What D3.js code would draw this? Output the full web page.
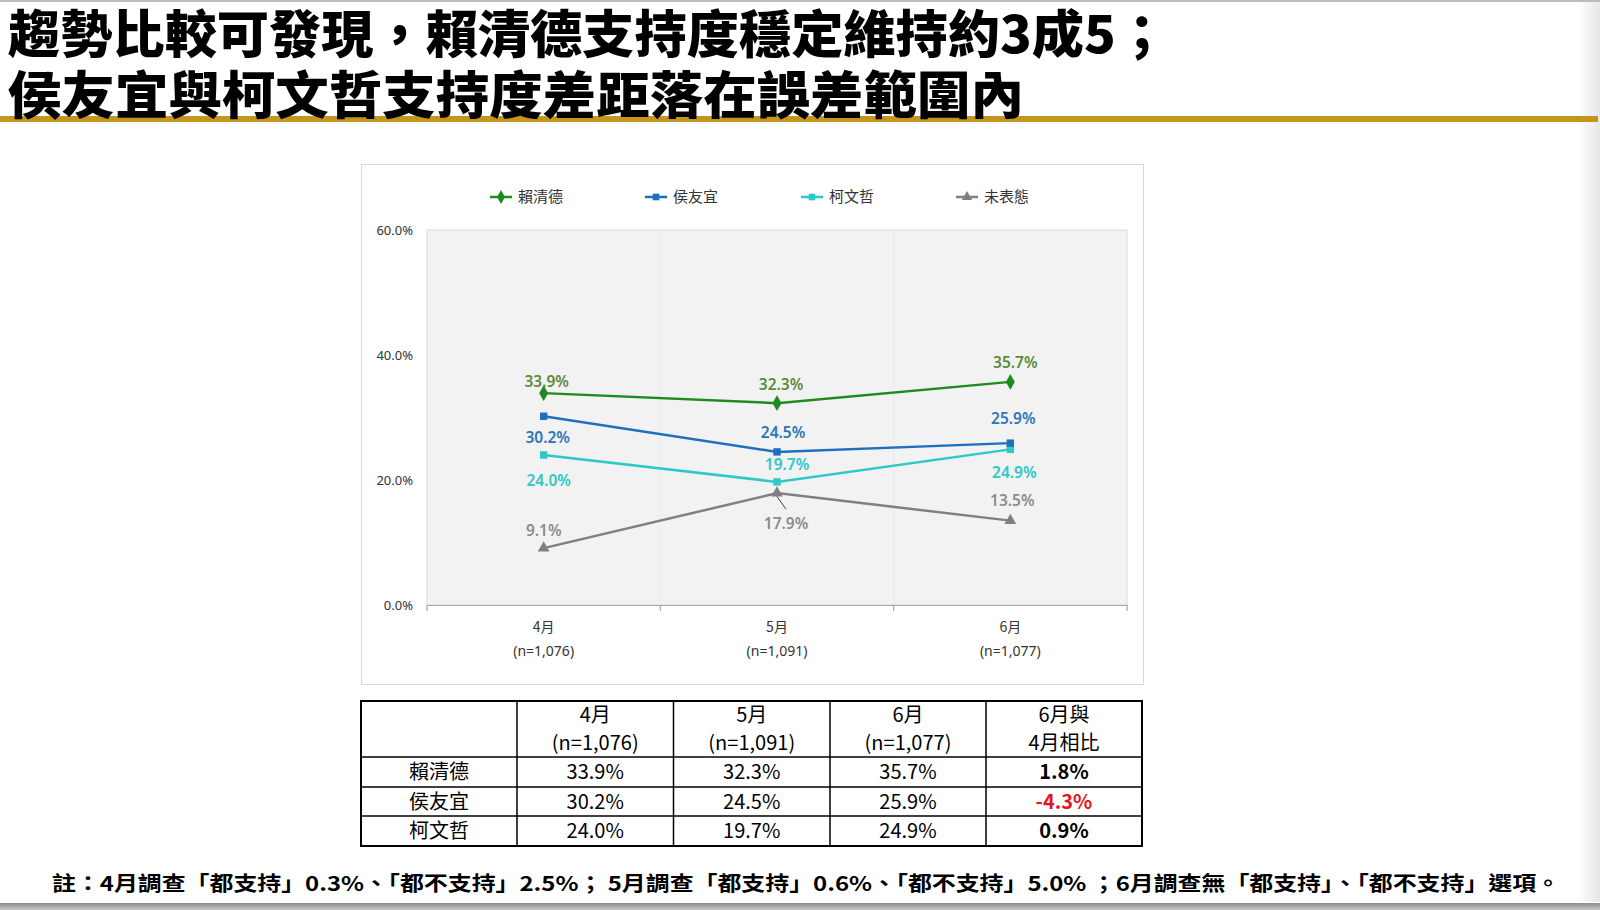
<!DOCTYPE html>
<html>
<head>
<meta charset="utf-8">
<script src="https://cdn.jsdelivr.net/npm/d3@7"></script>
<style>
  html, body { margin: 0; padding: 0; background: #fff; }
  svg { display: block; }
</style>
</head>
<body>
<svg id="chart" width="1600" height="910"></svg>
<script>
// ---------- DATA ----------
const titleLines = ["趨勢比較可發現，賴清德支持度穩定維持約3成5；", "侯友宜與柯文哲支持度差距落在誤差範圍內"];
const categories = ["4月", "5月", "6月"];
const sampleSizes = ["(n=1,076)", "(n=1,091)", "(n=1,077)"];
const seriesNames = ["賴清德", "侯友宜", "柯文哲", "未表態"];
const laiValues = [33.9, 32.3, 35.7];
const houValues = [30.2, 24.5, 25.9];
const koValues = [24.0, 19.7, 24.9];
const undecidedValues = [9.1, 17.9, 13.5];
const yTicks = [0, 20, 40, 60];
const tableRows = ["賴清德", "侯友宜", "柯文哲"];
const diffValues = [1.8, -4.3, 0.9];
const diffHeader = ["6月與", "4月相比"];
const footnote = "註：4月調查「都支持」0.3%、「都不支持」2.5%； 5月調查「都支持」0.6%、「都不支持」5.0% ；6月調查無「都支持」、「都不支持」選項。";

// ---------- STYLE / LAYOUT ----------
const seriesValues = [laiValues, houValues, koValues, undecidedValues];
const lineColors = ["#1e8b1e", "#1f6fbf", "#2ec8c8", "#808080"];
const labelColors = ["#5b8c3a", "#2e75b6", "#2ec8c8", "#8c8c8c"];
const markerTypes = [d3.symbolDiamond, d3.symbolSquare, d3.symbolSquare, d3.symbolTriangle];
const markerSizes = [70, 55, 55, 60];
// label offsets (dx, dy) relative to each point
const labelOffsets = [
  [[3, -12], [4, -19], [5, -19]],
  [[4, 21], [6, -19], [3, -25]],
  [[5, 26], [10, -17], [4, 23]],
  [[0, -18], [9, 30], [2, -20]]
];

const svg = d3.select("#chart");
const FONT_CJK = "'Noto Sans CJK TC', 'Noto Sans', sans-serif";
const FONT_NUM = "'Noto Sans', 'Noto Sans CJK TC', sans-serif";
const defs = svg.append("defs");

// top thin line
svg.append("rect").attr("x", 0).attr("y", 0).attr("width", 1600).attr("height", 2).attr("fill", "#bdbdbd");

// right edge shade
const g1 = defs.append("linearGradient").attr("id", "rshade").attr("x1", 0).attr("x2", 1).attr("y1", 0).attr("y2", 0);
g1.append("stop").attr("offset", 0).attr("stop-color", "#fff");
g1.append("stop").attr("offset", 1).attr("stop-color", "#e6e6e6");
svg.append("rect").attr("x", 1578).attr("y", 2).attr("width", 22).attr("height", 900).attr("fill", "url(#rshade)");

// gold rule
svg.append("rect").attr("x", 0).attr("y", 116).attr("width", 1598).attr("height", 6).attr("fill", "#c4961c");

// Title
const titleX = 8;
const titleBaselines = [53, 114];
const titleWidths = [1160, 1016];
titleLines.forEach((t, i) => {
  svg.append("text")
    .attr("transform", `translate(${titleX},${titleBaselines[i]}) scale(1,1.06)`)
    .attr("font-family", FONT_CJK)
    .attr("font-weight", 900)
    .attr("font-size", 48)
    .attr("textLength", titleWidths[i])
    .attr("lengthAdjust", "spacingAndGlyphs")
    .attr("fill", "#000")
    .text(t);
});

// ---------- CHART ----------
svg.append("rect").attr("x", 361.5).attr("y", 164.5).attr("width", 782).attr("height", 520)
  .attr("fill", "#fff").attr("stroke", "#d9d9d9").attr("stroke-width", 1);

const plot = { left: 427, right: 1127, top: 230, bottom: 605 };
const x = d3.scaleBand().domain(categories).range([plot.left, plot.right]);
const y = d3.scaleLinear().domain([0, 60]).range([plot.bottom, plot.top]);

svg.append("rect").attr("x", plot.left).attr("y", plot.top)
  .attr("width", plot.right - plot.left).attr("height", plot.bottom - plot.top)
  .attr("fill", "#f2f2f2").attr("stroke", "#d9d9d9").attr("stroke-width", 1);

// faint vertical gridlines at category boundaries
categories.slice(1).forEach(c => {
  svg.append("line").attr("x1", x(c)).attr("x2", x(c)).attr("y1", plot.top).attr("y2", plot.bottom)
    .attr("stroke", "#e3eeee").attr("stroke-width", 1);
});

// y axis
const yAxis = svg.append("g").attr("transform", `translate(${plot.left},0)`)
  .call(d3.axisLeft(y).tickValues(yTicks).tickFormat(d => d.toFixed(1) + "%").tickSize(0).tickPadding(14));
yAxis.select(".domain").remove();
yAxis.selectAll("text").attr("font-family", FONT_NUM).attr("font-size", 13).attr("fill", "#333");

// x axis
const xAxis = svg.append("g").attr("transform", `translate(0,${plot.bottom})`)
  .call(d3.axisBottom(x).tickSize(0).tickFormat(""));
xAxis.select(".domain").attr("stroke", "#a6a6a6").attr("stroke-width", 1.2);
const bounds = [plot.left].concat(categories.map(c => x(c) + x.bandwidth()));
bounds.forEach(b => {
  svg.append("line").attr("x1", b).attr("x2", b).attr("y1", plot.bottom).attr("y2", plot.bottom + 6)
    .attr("stroke", "#a6a6a6").attr("stroke-width", 1.2);
});
categories.forEach((c, i) => {
  const cx = x(c) + x.bandwidth() / 2;
  svg.append("text").attr("x", cx).attr("y", 632).attr("text-anchor", "middle")
    .attr("font-family", FONT_CJK).attr("font-size", 14).attr("fill", "#333").text(c);
  svg.append("text").attr("x", cx).attr("y", 656).attr("text-anchor", "middle")
    .attr("font-family", FONT_NUM).attr("font-size", 14).attr("fill", "#333").text(sampleSizes[i]);
});

// series lines
const line = d3.line().x((d, i) => x(categories[i]) + x.bandwidth() / 2).y(d => y(d));
[3, 2, 1, 0].forEach(s => {
  svg.append("path").datum(seriesValues[s]).attr("d", line)
    .attr("fill", "none").attr("stroke", lineColors[s]).attr("stroke-width", 2.5);
});
// leader line for 17.9%
{
  const px = x(categories[1]) + x.bandwidth() / 2, py = y(undecidedValues[1]);
  svg.append("line").attr("x1", px - 1).attr("y1", py + 2).attr("x2", px + 9).attr("y2", py + 16)
    .attr("stroke", "#404040").attr("stroke-width", 1);
}
[3, 2, 1, 0].forEach(s => {
  svg.append("g").selectAll("path").data(seriesValues[s]).join("path")
    .attr("transform", (d, i) => `translate(${x(categories[i]) + x.bandwidth() / 2},${y(d)})`)
    .attr("d", d3.symbol().type(markerTypes[s]).size(markerSizes[s]))
    .attr("fill", lineColors[s]);
});
// data labels
seriesValues.forEach((vals, s) => {
  svg.append("g").selectAll("text").data(vals).join("text")
    .attr("x", (d, i) => x(categories[i]) + x.bandwidth() / 2 + labelOffsets[s][i][0])
    .attr("y", (d, i) => y(d) + labelOffsets[s][i][1])
    .attr("dy", "0.35em")
    .attr("text-anchor", "middle")
    .attr("font-family", FONT_NUM).attr("font-size", 15.5).attr("font-weight", 600)
    .attr("fill", labelColors[s])
    .text(d => d.toFixed(1) + "%");
});

// legend
const legendX = [490, 645, 801, 956];
const legendY = 197;
seriesNames.forEach((n, s) => {
  const g = svg.append("g").attr("transform", `translate(${legendX[s]},${legendY})`);
  g.append("line").attr("x1", 0).attr("x2", 22).attr("y1", 0).attr("y2", 0)
    .attr("stroke", lineColors[s]).attr("stroke-width", 2.5);
  g.append("path").attr("transform", "translate(11,0)")
    .attr("d", d3.symbol().type(markerTypes[s]).size(markerSizes[s] * 0.8)).attr("fill", lineColors[s]);
  g.append("text").attr("x", 28).attr("y", 0).attr("dy", "0.35em")
    .attr("font-family", FONT_CJK).attr("font-size", 15).attr("fill", "#333").text(n);
});

// ---------- TABLE ----------
const colEdges = [361, 517, 673.5, 830, 986, 1142];
const rowEdges = [701, 757, 787, 816, 846];
const tbl = svg.append("g");
tbl.append("rect").attr("x", colEdges[0]).attr("y", rowEdges[0])
  .attr("width", colEdges[5] - colEdges[0]).attr("height", rowEdges[4] - rowEdges[0])
  .attr("fill", "none").attr("stroke", "#000").attr("stroke-width", 2);
colEdges.slice(1, 5).forEach(cx => tbl.append("line").attr("x1", cx).attr("x2", cx)
  .attr("y1", rowEdges[0]).attr("y2", rowEdges[4]).attr("stroke", "#000").attr("stroke-width", 1.5));
rowEdges.slice(1, 4).forEach(ry => tbl.append("line").attr("x1", colEdges[0]).attr("x2", colEdges[5])
  .attr("y1", ry).attr("y2", ry).attr("stroke", "#000").attr("stroke-width", 1.5));
const colC = i => (colEdges[i] + colEdges[i + 1]) / 2;
const rowC = i => (rowEdges[i] + rowEdges[i + 1]) / 2;
function cell(cx, cy, t, opts = {}) {
  tbl.append("text").attr("x", cx).attr("y", cy).attr("dy", "0.36em").attr("text-anchor", "middle")
    .attr("font-family", FONT_CJK).attr("font-size", 20)
    .attr("font-weight", opts.bold ? 700 : 400)
    .attr("fill", opts.color || "#000").text(t);
}
categories.forEach((c, i) => {
  cell(colC(i + 1), 715, c);
  cell(colC(i + 1), 743, sampleSizes[i]);
});
cell(colC(4), 715, diffHeader[0]);
cell(colC(4), 743, diffHeader[1]);
const tableData = [laiValues, houValues, koValues];
tableRows.forEach((r, ri) => {
  cell(colC(0), rowC(ri + 1), r);
  tableData[ri].forEach((v, ci) => cell(colC(ci + 1), rowC(ri + 1), v.toFixed(1) + "%"));
  const dv = diffValues[ri];
  cell(colC(4), rowC(ri + 1), dv.toFixed(1) + "%", { bold: true, color: dv < 0 ? "#e8141c" : "#000" });
});

// ---------- FOOTNOTE ----------
svg.append("text").attr("x", 52).attr("y", 884).attr("dy", "0.36em")
  .attr("font-family", FONT_CJK).attr("font-size", 20).attr("font-weight", 700)
  .attr("textLength", 1508).attr("lengthAdjust", "spacingAndGlyphs")
  .attr("fill", "#000").text(footnote);

// bottom bar
const g2 = defs.append("linearGradient").attr("id", "bshade").attr("x1", 0).attr("x2", 0).attr("y1", 0).attr("y2", 1);
g2.append("stop").attr("offset", 0).attr("stop-color", "#8c8c8c");
g2.append("stop").attr("offset", 1).attr("stop-color", "#c8c8c8");
svg.append("rect").attr("x", 0).attr("y", 903).attr("width", 1600).attr("height", 7).attr("fill", "url(#bshade)");
</script>
</body>
</html>
